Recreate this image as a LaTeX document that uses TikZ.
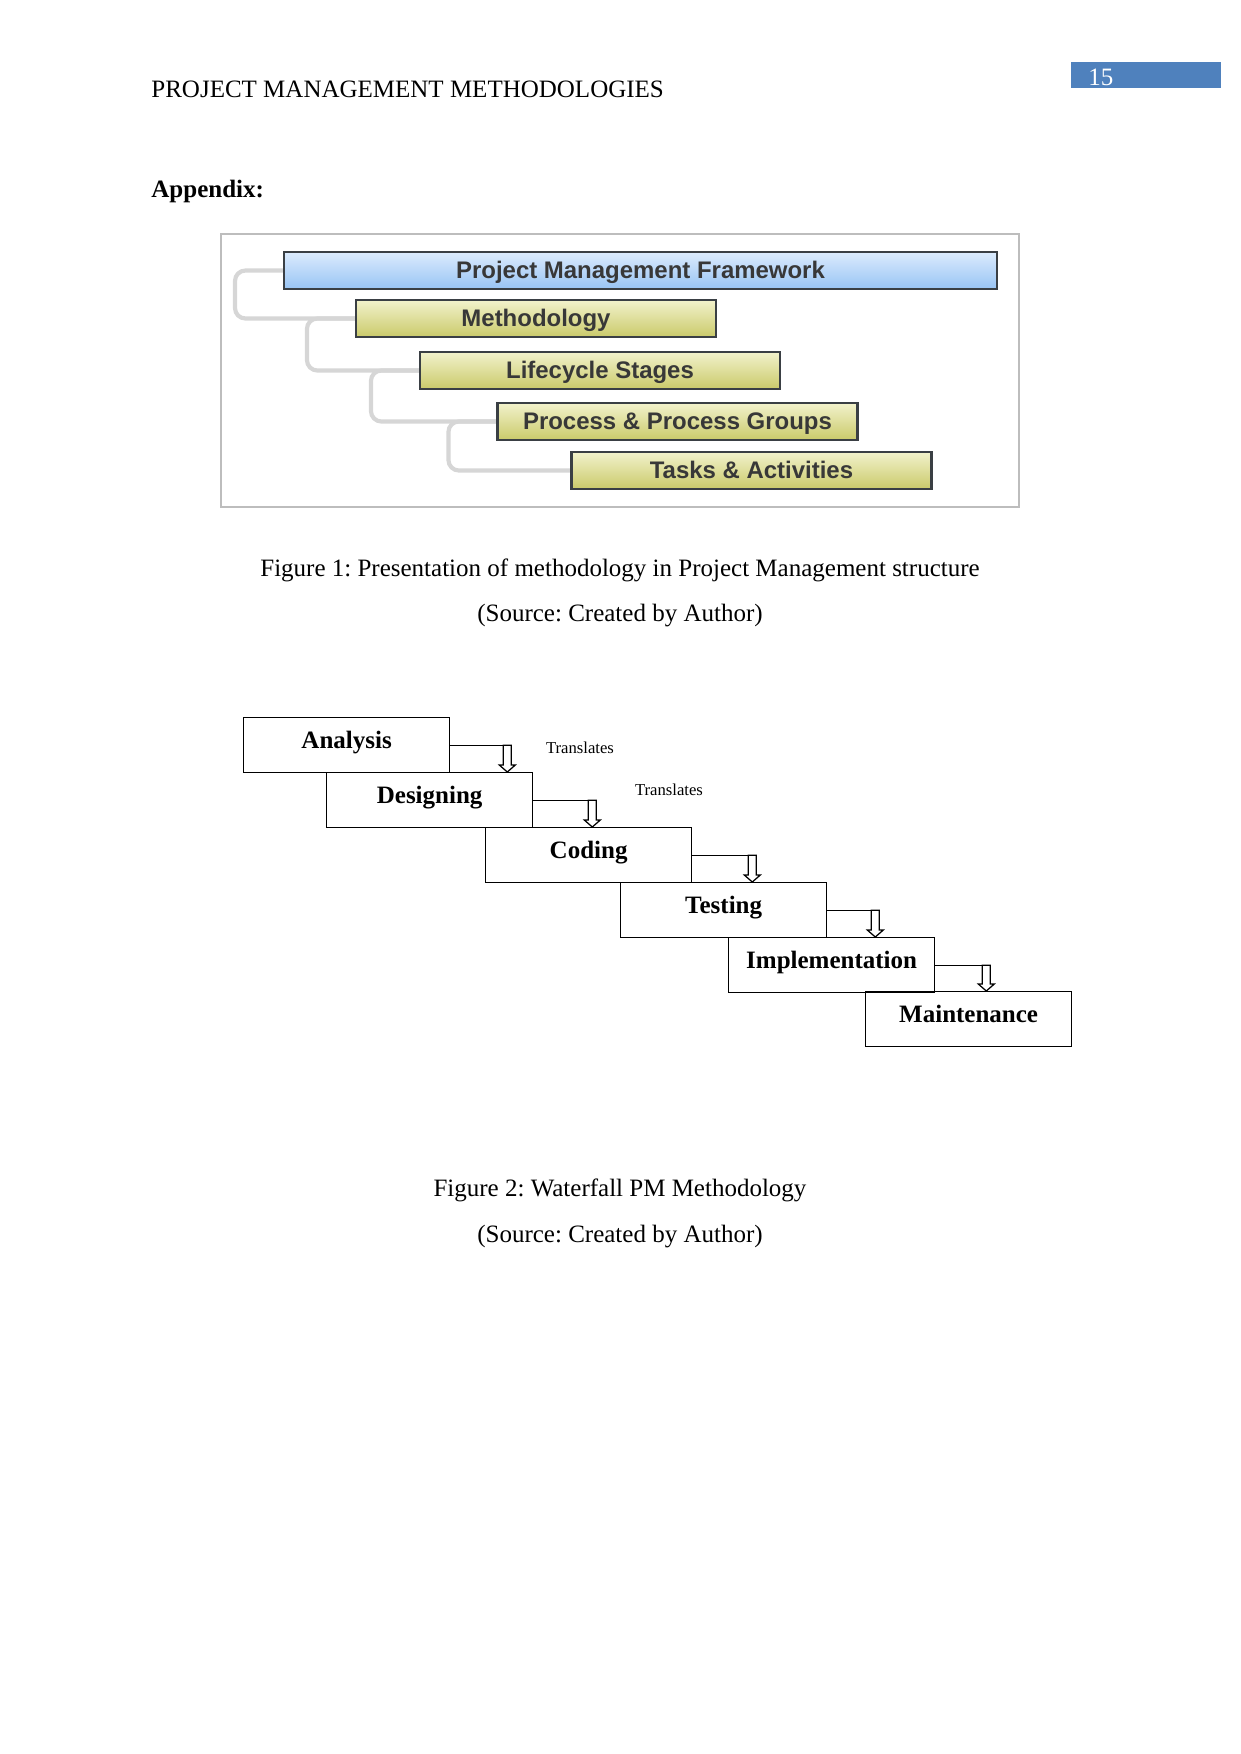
\documentclass[tikz,border=0pt]{standalone}
\usepackage{fontspec}
\setmainfont{Liberation Serif}
\newfontfamily\boxfont{Liberation Sans}
\usepackage{xcolor}
\definecolor{Bar}{HTML}{4F81BD}
\definecolor{Frame}{HTML}{BDBDBD}
\definecolor{Branch}{HTML}{D6D6D6}
\definecolor{Edge}{HTML}{3A3F44}
\definecolor{Ink}{HTML}{383838}
\definecolor{SkyTop}{HTML}{DCEBFD}
\definecolor{SkyBottom}{HTML}{98C4F4}
\definecolor{OliveTop}{HTML}{F2F2CC}
\definecolor{OliveBottom}{HTML}{CACA6A}
\usepackage{tikz}
\usetikzlibrary{calc,backgrounds,positioning}
\frenchspacing
\tikzset{
  tier/.style={draw=Edge,line width=1pt,top color=OliveTop,bottom color=OliveBottom,
    minimum height=17.8pt,minimum width=172.8pt,inner sep=0pt,
    font=\boxfont\bfseries\fontsize{11.5}{13}\selectfont,text=Ink,
    text height=9.5pt,text depth=1.5pt},
  tierblue/.style={tier,top color=SkyTop,bottom color=SkyBottom,minimum width=342.2pt},
  branch/.style={draw=Branch,line width=2pt,rounded corners=5pt},
  phase/.style={draw,line width=0.6pt,minimum width=98.9pt,minimum height=26.4pt,
    inner sep=0pt,anchor=north west,font=\bfseries\fontsize{12}{14}\selectfont,
    text height=8pt,text depth=4.6pt},
  link/.style={line width=0.6pt},
  drop/.style={line width=0.6pt,fill=white},
  note/.style={font=\fontsize{8}{10}\selectfont},
  caption/.style={anchor=base,font=\fontsize{12}{14}\selectfont}
}
\begin{document}
\begin{tikzpicture}[x=0.48pt,y=-0.48pt]
  \useasboundingbox (0,0) rectangle (1241,1754);

  % running head
  \fill[Bar] (1071,62) rectangle (1221,88);
  \node[anchor=base west,inner sep=0pt,text=white,font=\fontsize{12}{14}\selectfont] (pagenum) at (1088,85) {15};
  \node[anchor=base west,inner sep=0pt,font=\fontsize{12}{14}\selectfont] (head) at (151,97) {PROJECT MANAGEMENT METHODOLOGIES};
  \node[anchor=base west,inner sep=0pt,font=\bfseries\fontsize{12}{14}\selectfont] (appendix) at (151,197) {Appendix:};

  % figure 1
  \draw[Frame,line width=0.9pt] (221,234) rectangle (1019,507);
  \node[tierblue] (pmf) at (640.5,270.5) {Project Management Framework};
  \node[tier] (meth) at (536,318.5) {Methodology};
  \node[tier] (life) at (600,370.5) {Lifecycle Stages};
  \node[tier] (proc) at (677.5,421.5) {Process \& Process Groups};
  \node[tier] (task) at (751.5,470.5) {Tasks \& Activities};
  \begin{scope}[on background layer]
    \foreach \a/\b in {pmf/meth, meth/life, life/proc, proc/task}
      \draw[branch] (\a.west) -- ++(-48,0) |- (\b.west);
  \end{scope}
  \node[caption] (cap1) at (620,576) {Figure 1: Presentation of methodology in Project Management structure};
  \node[caption] (src1) at (620,621) {(Source: Created by Author)};

  % figure 2
  \node[phase] (ana) at (243,717) {Analysis};
  \node[phase] (des) at (326,772) {Designing};
  \node[phase] (cod) at (485,827) {Coding};
  \node[phase] (tes) at (620,882) {Testing};
  \node[phase] (imp) at (728,937) {Implementation};
  \node[phase] (mnt) at (865,991) {Maintenance};
  \foreach \a/\b/\d in {ana/des/57, des/cod/59, cod/tes/60, tes/imp/48, imp/mnt/51}{
    \coordinate (\a top) at ($(\a.east)+(\d,0)$);
    \coordinate (\a tip) at (\a top |- \b.north);
    \draw[link] (\a.east) -- ($(\a top)+(-4,0)$);
    \draw[drop] ($(\a top)+(-4,0)$) -- ($(\a top)+(4,0)$) -- ($(\a tip)+(4,-7)$)
      -- ($(\a tip)+(8,-7)$) -- (\a tip) -- ($(\a tip)+(-8,-7)$) -- ($(\a tip)+(-4,-7)$) -- cycle;
  }
  \node[note] (tr1) at (580,748) {Translates};
  \node[note] (tr2) at (669,790) {Translates};
  \node[caption] (cap2) at (620,1196) {Figure 2: Waterfall PM Methodology};
  \node[caption] (src2) at (620,1242) {(Source: Created by Author)};
\end{tikzpicture}
\end{document}
